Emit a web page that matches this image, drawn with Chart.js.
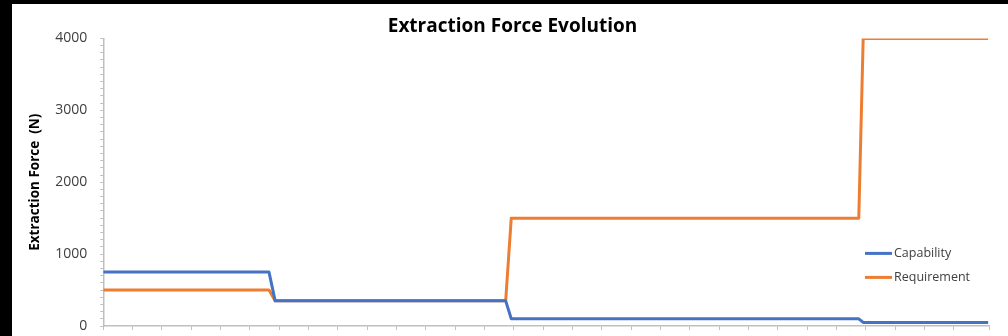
<!DOCTYPE html>
<html>
<head>
<meta charset="utf-8">
<script src="https://cdn.jsdelivr.net/npm/chart.js@4/dist/chart.umd.min.js"></script>
<style>
  html, body { margin: 0; padding: 0; background: #000; }
  #frame { position: absolute; left: 12px; top: 4px; width: 996px; height: 332px; background: #fff; }
</style>
</head>
<body>
<div id="frame"><canvas id="forceChart" width="996" height="332"></canvas></div>
<script>
// step positions along the (unlabelled) x axis, one unit per tick mark
const xPositions = [0, 5.65, 5.86, 13.72, 13.91, 25.76, 25.91, 30.17];
const capability = [750, 750, 350, 350, 100, 100, 50, 50];
const requirement = [500, 500, 350, 350, 1500, 1500, 4000, 4000];
const seriesNames = ["Capability", "Requirement"];
const seriesColors = ["#4472C4", "#ED7D31"];

const toPoints = vals => vals.map((v, i) => ({ x: xPositions[i], y: v }));

// legend sits inside the plot, lower right (Excel style)
const insideLegend = {
  id: "insideLegend",
  afterDraw(chart) {
    const ctx = chart.ctx;
    const area = chart.chartArea;
    const x0 = area.right - 124;
    let y = area.top + 215;
    ctx.save();
    ctx.font = "12.5px 'Open Sans'";
    ctx.textBaseline = "middle";
    chart.data.datasets.forEach(ds => {
      ctx.strokeStyle = ds.borderColor;
      ctx.lineWidth = 3;
      ctx.beginPath();
      ctx.moveTo(x0, y);
      ctx.lineTo(x0 + 27, y);
      ctx.stroke();
      ctx.fillStyle = "#404040";
      ctx.fillText(ds.label, x0 + 29, y);
      y += 24;
    });
    ctx.restore();
  }
};

new Chart(document.getElementById("forceChart").getContext("2d"), {
  type: "line",
  data: {
    datasets: [
      { label: seriesNames[0], data: toPoints(capability), borderColor: seriesColors[0] },
      { label: seriesNames[1], data: toPoints(requirement), borderColor: seriesColors[1] }
    ]
  },
  options: {
    responsive: false,
    animation: false,
    layout: { padding: { left: 24, right: 19, top: 0, bottom: 0 } },
    elements: {
      line: { borderWidth: 3, tension: 0, fill: false, borderJoinStyle: "round" },
      point: { radius: 0 }
    },
    scales: {
      x: {
        type: "linear",
        min: 0,
        max: 30.2,
        grid: { drawOnChartArea: false, drawTicks: true, tickLength: 4, color: "#bfbfbf" },
        border: { color: "#bfbfbf", width: 1.5 },
        ticks: { stepSize: 1, autoSkip: false, callback: () => "" },
        afterFit(scale) { scale.height = 10; }
      },
      y: {
        min: 0,
        max: 4000,
        grid: { drawOnChartArea: false, drawTicks: true, tickLength: 3, color: "#bfbfbf" },
        border: { color: "#bfbfbf", width: 1.5 },
        ticks: {
          stepSize: 100,
          autoSkip: false,
          padding: 13,
          color: "#404040",
          font: { family: "Open Sans", size: 14 },
          callback: v => (v % 1000 === 0 ? String(v) : "")
        },
        title: {
          display: true,
          text: "Extraction Force  (N)",
          color: "#000",
          font: { family: "Open Sans", size: 13.5, weight: "bold" },
          padding: { top: -9, bottom: 0 }
        },
        afterFit(scale) {
          scale.width = 67.3;
          scale.paddingTop = 0;
          scale.paddingBottom = 0;
        }
      }
    },
    plugins: {
      legend: { display: false },
      tooltip: { enabled: false },
      title: {
        display: true,
        text: "Extraction Force Evolution",
        color: "#000",
        font: { family: "Open Sans", size: 19, weight: "bold" },
        padding: { top: 11.6, bottom: 0 }
      }
    }
  },
  plugins: [insideLegend]
});
</script>
</body>
</html>
